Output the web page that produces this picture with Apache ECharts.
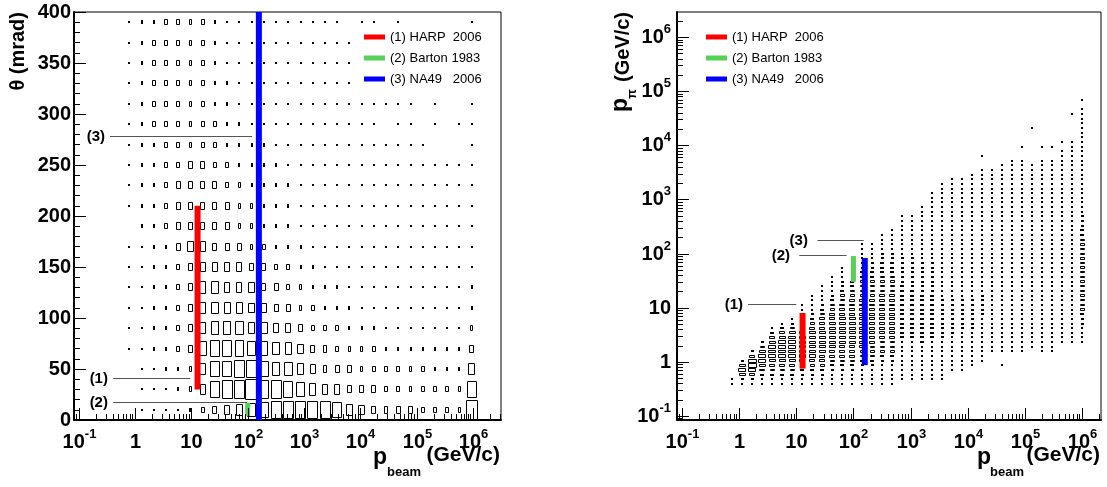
<!DOCTYPE html>
<html>
<head>
<meta charset="utf-8">
<script src="https://cdn.jsdelivr.net/npm/echarts@6/dist/echarts.min.js"></script>
<style>
html,body{margin:0;padding:0;background:#ffffff;}
#chart{width:1107px;height:487px;}
</style>
</head>
<body>
<div id="chart"></div>
<script>
// ================= DATA =================
// Left panel: theta (mrad) vs p_beam (GeV/c), box sizes in tenths of a cell
const leftBeamP = [0.79,1.31,2.16,3.56,5.86,9.66,15.9,26.2,43.3,71.3,117,194,319,526,867,1430,2360,3880,6400,10500,17400,28600,47200,77800,128000,211000,348000,574000,946000];
const leftBinDecades = 0.217;
const leftTheta = [390,370,350,330,310,290,270,250,230,210,190,170,150,130,110,90,70,50,30,10];
const leftThetaBin = 20;
const leftBoxes = [
 [1,2,2,3,3,3,3,2,1,1,1,1,1,1,1,1,1,1,0,1,1,0,1,0,0,0,0,0,1],
 [1,2,3,3,3,3,3,2,1,1,1,1,1,1,1,1,1,1,1,0,0,0,0,0,0,0,0,0,0],
 [1,2,3,3,3,3,3,2,1,1,1,1,1,1,1,1,1,1,1,0,0,0,0,0,0,0,0,0,0],
 [1,2,3,3,3,3,3,2,2,1,1,1,1,1,1,1,1,1,1,0,0,0,0,0,0,0,0,0,0],
 [1,2,3,3,3,3,3,2,2,1,1,1,1,1,1,1,1,1,1,1,1,1,1,1,0,1,0,0,1],
 [1,2,3,3,3,3,3,3,2,2,1,1,1,1,1,1,1,1,1,1,1,0,1,1,0,1,0,1,1],
 [1,2,2,3,3,3,3,3,2,2,2,2,1,1,1,1,1,1,1,1,1,1,1,1,1,0,0,0,1],
 [1,2,2,3,3,4,4,3,3,2,2,2,2,1,1,1,1,1,1,1,1,1,1,1,1,1,1,1,1],
 [1,2,2,3,4,4,4,4,3,3,2,2,2,2,1,1,1,1,1,1,1,1,1,1,1,1,1,1,1],
 [1,2,2,3,4,4,4,4,4,3,3,2,2,2,1,1,1,1,1,1,1,1,1,1,1,1,1,1,1],
 [0,2,2,3,4,4,4,4,4,3,3,2,2,2,1,1,1,1,1,1,1,1,1,1,1,1,1,1,1],
 [1,1,2,2,4,5,5,4,4,4,3,3,2,2,2,1,1,1,1,1,1,1,1,1,1,1,1,1,1],
 [1,1,2,2,3,4,5,5,5,5,4,4,3,3,2,2,1,1,1,1,1,1,1,1,1,1,1,1,1],
 [1,1,2,2,3,4,6,6,5,5,5,4,4,3,3,2,2,2,1,1,1,1,1,1,1,1,1,1,2],
 [1,1,2,2,3,4,6,6,6,6,5,5,4,4,3,3,2,2,2,1,1,1,1,1,1,1,1,1,2],
 [1,1,2,2,3,4,6,7,7,7,6,6,5,5,4,3,3,3,2,2,2,1,1,1,1,1,1,1,3],
 [1,1,2,2,3,4,7,8,8,8,7,7,6,6,5,4,4,3,3,3,3,2,2,2,2,2,2,2,4],
 [0,1,1,2,2,3,6,8,8,9,9,8,7,7,6,5,4,4,4,3,3,3,3,3,3,2,2,2,6],
 [0,1,1,1,2,3,5,8,9,9,10,9,9,8,7,6,5,5,4,4,4,3,3,3,3,3,3,3,8],
 [0,1,1,1,1,2,3,4,5,6,7,8,9,9,9,9,9,8,6,5,4,4,4,4,3,3,3,3,10]
];

// Right panel: p_pi vs p_beam; each column = [first row, box sizes upward (tenths)]
const rightBeamP = [0.76,1.14,1.70,2.54,3.80,5.69,8.51,12.7,19.1,28.5,42.7,63.8,95.5,143,214,320,479,716,1070,1600,2400,3590,5370,8040,12000,18000,26900,40300,60300,90200,135000,202000,302000,452000,676000,1010000];
const rightBinDecades = 0.175;
const rightPiRowLog0 = -0.41;
const rightPiRowDecades = 0.086;
const rightColumns = [
 [0,"11"],
 [0,"137873"],
 [0,"13689963"],
 [0,"1246788753"],
 [0,"1245678887642"],
 [0,"12456788887641"],
 [0,"124567888887531"],
 [0,"113456777776543211"],
 [0,"11345677777765432111"],
 [0,"1134566777776665432111"],
 [0,"111345667777776655432111"],
 [0,"11134566677777766655433211"],
 [0,"1113456667777776666554432111"],
 [0,"1112345566666666666555544332111"],
 [0,"1112345556666666666555544332111"],
 [0,"111223455566666666665555444332111"],
 [0,"1112234555666666666655554443322111"],
 [1,"111112222444444444444333333111111111"],
 [1,"111112222444444444443333333111111111"],
 [1,"11111222444444444443333333111111111111"],
 [1,"11111122244444444443333333111111111111111"],
 [1,"1111112223333333332222222211111111111111111"],
 [3,"111112223333333322222222111111111111111111"],
 [3,"111112222333333322222222111111111111111111"],
 [4,"111122223333333222222211111111111111111111"],
 [5,"111122222233333222222221111111111111111111001"],
 [7,"1112222222222222222221111111111111111111"],
 [4,"10011122222222222222111111111111111111111111"],
 [7,"111222222222222221111111111111111111111111"],
 [7,"111222222222222211111111111111111111111111001"],
 [8,"111222222222222111111111111111111111111100000001"],
 [7,"111222222222222211111111111111111111111111001"],
 [7,"111222222222222211111111111111111111111111001"],
 [9,"11222222222222221111111111111111111111111101"],
 [9,"11222222222222222111111111111111111111111111000001"],
 [9,"11123345555555555555555443332111111111111111111111101"]
];

// Experiments (bars and legend)
const expNames = ['(1) HARP  2006', '(2) Barton 1983', '(3) NA49   2006'];
const expBeamP = [12.9, 100, 158];
const expTheta = [[30,210],[4,17],[0,400]];
const expPpi = [[0.75,8],[30,90],[0.87,83]];

// Annotation lines: [label, y value, line start p, line end p, label p]
const leftNotes = [['(1)',41,0.41,9.5,0.331],['(2)',17.6,0.41,97,0.331],['(3)',278,0.36,120,0.293]];
const rightNotes = [['(1)',11.5,1.44,10,1.17],['(2)',93,11.3,76,7.8],['(3)',178,23.5,151,16]];

// Log-axis decade ticks and labels
const decadeTicks = [0.1,1,10,100,1e3,1e4,1e5,1e6];
const decadeLabels = [['10','-1'],['1',''],['10',''],['10','2'],['10','3'],['10','4'],['10','5'],['10','6']];

// ================= STYLE / RENDER =================
const FONT = '"Liberation Sans", Arial, Helvetica, sans-serif';
const expColors = ['#ff0000', '#55d255', '#0000ff'];
const LX = [0.0826, 3.14e6];
const RX = [0.082, 2.14e6];
const RY = [0.0843, 2.9e6];

function minorLogTicks(range) {
  const out = [];
  for (let k = -2; k <= 7; k++) {
    for (let m = 2; m <= 9; m++) {
      const v = m * Math.pow(10, k);
      if (v > range[0] && v < range[1]) out.push(v);
    }
  }
  return out;
}

function cellShape(cx, cy, w, h) {
  if (w < 3 || h < 2.2) {
    const ww = Math.max(2, Math.round(w)), hh = Math.max(2, Math.round(h));
    return {type:'rect', shape:{x:Math.round(cx - ww/2), y:Math.round(cy - hh/2), width:ww, height:hh}, style:{fill:'#000'}};
  }
  const x1 = Math.round(cx - w/2) + 0.5, y1 = Math.round(cy - h/2) + 0.5;
  const x2 = Math.round(cx + w/2) - 0.5, y2 = Math.round(cy + h/2) - 0.5;
  return {type:'rect', shape:{x:x1, y:y1, width:Math.max(1, x2-x1), height:Math.max(1, y2-y1)}, style:{fill:'none', stroke:'#000', lineWidth:1}};
}

const leftHalf = Math.pow(10, leftBinDecades/2);
const rightHalf = Math.pow(10, rightBinDecades/2);
const rowHalf = Math.pow(10, rightPiRowDecades/2);

const leftData = [];
leftTheta.forEach(function(th, r){
  leftBoxes[r].forEach(function(s, c){ if (s > 0) leftData.push([leftBeamP[c], th, s]); });
});
const rightData = [];
rightColumns.forEach(function(col, c){
  const start = col[0], str = col[1];
  for (let k = 0; k < str.length; k++) {
    const s = +str[k];
    if (s > 0) rightData.push([rightBeamP[c], Math.pow(10, rightPiRowLog0 + rightPiRowDecades*(start + k)), s]);
  }
});

function labelChildren(x, y, base, exp, mode) {
  const bfs = 20, efs = 13;
  const bw = base.length * 0.556 * bfs;
  let ew = 0;
  for (const ch of exp) ew += (ch === '-' ? 0.333 : 0.556) * efs;
  const out = [];
  let baseRight;
  if (mode === 'center') baseRight = x - (bw + ew)/2 + bw;
  else baseRight = x - ew;
  out.push({type:'text', x:baseRight, y:y, style:{text:base, font:'bold '+bfs+'px '+FONT, fill:'#000', align:'right', verticalAlign:'middle'}});
  if (exp) out.push({type:'text', x:baseRight, y:y - 8, style:{text:exp, font:'bold '+efs+'px '+FONT, fill:'#000', align:'left', verticalAlign:'middle'}});
  return out;
}

function xDecorSeries(gridIdx, range, yRef) {
  const data = [];
  decadeTicks.forEach(function(v, i){ data.push([v, yRef, 0, i]); });
  minorLogTicks(range).forEach(function(v){ data.push([v, yRef, 1, -1]); });
  return {
    type:'custom', xAxisIndex:gridIdx, yAxisIndex:gridIdx, silent:true, clip:false, z:5,
    data:data,
    renderItem:function(params, api){
      const cs = params.coordSys;
      const v = api.value(0), kind = api.value(2), li = api.value(3);
      const x = Math.round(api.coord([v, yRef])[0]) + 0.5;
      const yb = cs.y + cs.height;
      const len = kind === 0 ? 12 : 6;
      const ch = [{type:'line', shape:{x1:x, y1:yb, x2:x, y2:yb - len}, style:{stroke:'#000', lineWidth:1}}];
      if (kind === 0) {
        const lab = decadeLabels[li];
        labelChildren(x, yb + 22, lab[0], lab[1], 'center').forEach(function(c){ ch.push(c); });
      }
      return {type:'group', children:ch};
    }
  };
}

function yDecorSeries(gridIdx, range, xRef) {
  const data = [];
  decadeTicks.forEach(function(v, i){ data.push([xRef, v, 0, i]); });
  minorLogTicks(range).forEach(function(v){ data.push([xRef, v, 1, -1]); });
  return {
    type:'custom', xAxisIndex:gridIdx, yAxisIndex:gridIdx, silent:true, clip:false, z:5,
    data:data,
    renderItem:function(params, api){
      const cs = params.coordSys;
      const v = api.value(1), kind = api.value(2), li = api.value(3);
      const y = Math.round(api.coord([xRef, v])[1]) + 0.5;
      const xl = cs.x;
      const len = kind === 0 ? 12 : 6;
      const ch = [{type:'line', shape:{x1:xl, y1:y, x2:xl + len, y2:y}, style:{stroke:'#000', lineWidth:1}}];
      if (kind === 0) {
        const lab = decadeLabels[li];
        labelChildren(xl - 6, y, lab[0], lab[1], 'right').forEach(function(c){ ch.push(c); });
      }
      return {type:'group', children:ch};
    }
  };
}

function boxSeries(gridIdx, data, xHalf, yEdges) {
  return {
    type:'custom', xAxisIndex:gridIdx, yAxisIndex:gridIdx, silent:true, clip:false, z:2,
    progressive:0, data:data, encode:{x:0, y:1},
    renderItem:function(params, api){
      const p = api.value(0), yv = api.value(1), s = api.value(2) / 10;
      const e = yEdges(yv);
      const a = api.coord([p / xHalf, e[0]]);
      const b = api.coord([p * xHalf, e[1]]);
      const cx = (a[0] + b[0]) / 2, cy = (a[1] + b[1]) / 2;
      return cellShape(cx, cy, Math.abs(b[0]-a[0]) * s, Math.abs(b[1]-a[1]) * s);
    }
  };
}

function barSeries(gridIdx, i, range, width) {
  return {
    type:'custom', name:expNames[i], xAxisIndex:gridIdx, yAxisIndex:gridIdx, silent:true, clip:false, z:3,
    itemStyle:{color:expColors[i]},
    data:[[expBeamP[i], range[0], range[1]]],
    renderItem:function(params, api){
      const a = api.coord([api.value(0), api.value(1)]);
      const b = api.coord([api.value(0), api.value(2)]);
      return {type:'rect', shape:{x:a[0] - width/2, y:b[1], width:width, height:a[1]-b[1]}, style:{fill:expColors[i]}};
    }
  };
}

function noteSeries(gridIdx, notes) {
  return {
    type:'custom', xAxisIndex:gridIdx, yAxisIndex:gridIdx, silent:true, clip:false, z:4,
    data:notes.map(function(n, i){ return [n[2], n[1], n[3], n[4], i]; }),
    renderItem:function(params, api){
      const y = api.value(1);
      const a = api.coord([api.value(0), y]);
      const b = api.coord([api.value(2), y]);
      const l = api.coord([api.value(3), y]);
      const yy = Math.round(a[1]) + 0.5;
      return {type:'group', children:[
        {type:'line', shape:{x1:a[0], y1:yy, x2:b[0], y2:yy}, style:{stroke:'#555', lineWidth:1.2}},
        {type:'text', x:l[0], y:yy, style:{text:notes[api.value(4)][0], font:'bold 15px '+FONT, fill:'#000', align:'right', verticalAlign:'middle'}}
      ]};
    }
  };
}

const series = [
  boxSeries(0, leftData, leftHalf, function(t){ return [t - leftThetaBin/2, t + leftThetaBin/2]; }),
  boxSeries(1, rightData, rightHalf, function(v){ return [v / rowHalf, v * rowHalf]; }),
  barSeries(0, 0, expTheta[0], 6), barSeries(0, 1, expTheta[1], 5), barSeries(0, 2, expTheta[2], 6),
  barSeries(1, 0, expPpi[0], 6), barSeries(1, 1, expPpi[1], 5), barSeries(1, 2, expPpi[2], 6),
  noteSeries(0, leftNotes), noteSeries(1, rightNotes),
  xDecorSeries(0, LX, 200), xDecorSeries(1, RX, 1), yDecorSeries(1, RY, 1)
];

const legendCommon = {
  data:expNames, orient:'vertical', top:29, itemWidth:21, itemHeight:5, itemGap:5, padding:0,
  icon:'rect', selectedMode:false,
  textStyle:{fontSize:13, fontFamily:FONT, color:'#000', lineHeight:16}
};

const hiddenLog = function(gridIdx, range){
  return {type:'log', logBase:10, gridIndex:gridIdx, min:range[0], max:range[1],
    axisLine:{show:true, onZero:false, lineStyle:{color:'#000', width:2}},
    axisTick:{show:false}, axisLabel:{show:false}, splitLine:{show:false}, minorTick:{show:false}};
};

const xLeft = hiddenLog(0, LX);
const xRight = hiddenLog(1, RX);
const yRight = hiddenLog(1, RY);
yRight.position = 'left';

const option = {
  animation:false,
  backgroundColor:'#ffffff',
  grid:[
    {left:74, top:12, width:427, height:408, show:true, borderColor:'#000', borderWidth:1, backgroundColor:'transparent'},
    {left:677, top:12, width:424, height:408, show:true, borderColor:'#000', borderWidth:1, backgroundColor:'transparent'}
  ],
  xAxis:[xLeft, xRight],
  yAxis:[
    {type:'value', gridIndex:0, min:0, max:400, interval:50, position:'left',
     axisLine:{show:true, onZero:false, lineStyle:{color:'#000', width:2}},
     axisTick:{show:true, inside:true, length:12, lineStyle:{color:'#000', width:1}},
     minorTick:{show:true, splitNumber:5, length:6, lineStyle:{color:'#000', width:1}},
     axisLabel:{fontSize:20, fontWeight:'bold', fontFamily:FONT, color:'#000', margin:3},
     splitLine:{show:false}},
    yRight
  ],
  legend:[
    Object.assign({left:364}, legendCommon),
    Object.assign({left:706}, legendCommon)
  ],
  graphic:[
    {type:'text', x:18, y:12, rotation:Math.PI/2, style:{text:'θ (mrad)', font:'bold 20px '+FONT, fill:'#000', align:'right', verticalAlign:'middle'}},
    {type:'text', x:373, y:458, style:{text:'p', font:'bold 23px '+FONT, fill:'#000', align:'left', verticalAlign:'middle'}},
    {type:'text', x:387, y:472, style:{text:'beam', font:'bold 13px '+FONT, fill:'#000', align:'left', verticalAlign:'middle'}},
    {type:'text', x:500, y:455, style:{text:'(GeV/c)', font:'bold 21px '+FONT, fill:'#000', align:'right', verticalAlign:'middle'}},
    {type:'text', x:977, y:458, style:{text:'p', font:'bold 23px '+FONT, fill:'#000', align:'left', verticalAlign:'middle'}},
    {type:'text', x:990, y:472, style:{text:'beam', font:'bold 13px '+FONT, fill:'#000', align:'left', verticalAlign:'middle'}},
    {type:'text', x:1100, y:455, style:{text:'(GeV/c)', font:'bold 21px '+FONT, fill:'#000', align:'right', verticalAlign:'middle'}},
    {type:'text', x:621, y:112, rotation:Math.PI/2, style:{text:'p', font:'bold 23px '+FONT, fill:'#000', align:'left', verticalAlign:'middle'}},
    {type:'text', x:632, y:99, rotation:Math.PI/2, style:{text:'π', font:'bold 13px '+FONT, fill:'#000', align:'left', verticalAlign:'middle'}},
    {type:'text', x:623, y:12, rotation:Math.PI/2, style:{text:'(GeV/c)', font:'bold 20px '+FONT, fill:'#000', align:'right', verticalAlign:'middle'}}
  ],
  series:series
};

const chart = echarts.init(document.getElementById('chart'), null, {renderer:'canvas', width:1107, height:487});
chart.setOption(option);
</script>
</body>
</html>
